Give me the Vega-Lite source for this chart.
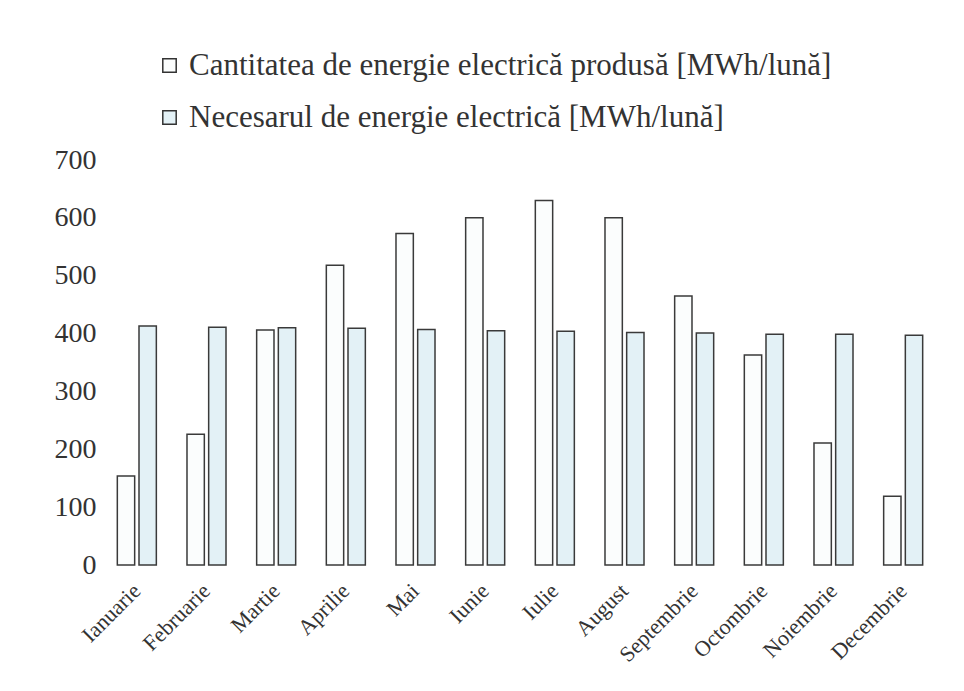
{
  "$schema": "https://vega.github.io/schema/vega-lite/v6.json",
  "width": 836,
  "height": 405,
  "autosize": {"type": "none"},
  "padding": {"left": 102, "top": 160, "right": 26, "bottom": 126},
  "background": "white",
  "config": {
    "view": {"stroke": null},
    "font": "Liberation Serif",
    "axis": {"labelFont": "Liberation Serif"},
    "legend": {"labelFont": "Liberation Serif"}
  },
  "data": {
    "values": [
      {"luna": "Ianuarie", "serie": "Cantitatea de energie electrică produsă [MWh/lună]", "valoare": 154},
      {"luna": "Februarie", "serie": "Cantitatea de energie electrică produsă [MWh/lună]", "valoare": 226},
      {"luna": "Martie", "serie": "Cantitatea de energie electrică produsă [MWh/lună]", "valoare": 406},
      {"luna": "Aprilie", "serie": "Cantitatea de energie electrică produsă [MWh/lună]", "valoare": 518},
      {"luna": "Mai", "serie": "Cantitatea de energie electrică produsă [MWh/lună]", "valoare": 573},
      {"luna": "Iunie", "serie": "Cantitatea de energie electrică produsă [MWh/lună]", "valoare": 600},
      {"luna": "Iulie", "serie": "Cantitatea de energie electrică produsă [MWh/lună]", "valoare": 630},
      {"luna": "August", "serie": "Cantitatea de energie electrică produsă [MWh/lună]", "valoare": 600},
      {"luna": "Septembrie", "serie": "Cantitatea de energie electrică produsă [MWh/lună]", "valoare": 465},
      {"luna": "Octombrie", "serie": "Cantitatea de energie electrică produsă [MWh/lună]", "valoare": 363},
      {"luna": "Noiembrie", "serie": "Cantitatea de energie electrică produsă [MWh/lună]", "valoare": 211},
      {"luna": "Decembrie", "serie": "Cantitatea de energie electrică produsă [MWh/lună]", "valoare": 119},
      {"luna": "Ianuarie", "serie": "Necesarul de energie electrică [MWh/lună]", "valoare": 413},
      {"luna": "Februarie", "serie": "Necesarul de energie electrică [MWh/lună]", "valoare": 411},
      {"luna": "Martie", "serie": "Necesarul de energie electrică [MWh/lună]", "valoare": 410},
      {"luna": "Aprilie", "serie": "Necesarul de energie electrică [MWh/lună]", "valoare": 409},
      {"luna": "Mai", "serie": "Necesarul de energie electrică [MWh/lună]", "valoare": 407},
      {"luna": "Iunie", "serie": "Necesarul de energie electrică [MWh/lună]", "valoare": 405},
      {"luna": "Iulie", "serie": "Necesarul de energie electrică [MWh/lună]", "valoare": 404},
      {"luna": "August", "serie": "Necesarul de energie electrică [MWh/lună]", "valoare": 402},
      {"luna": "Septembrie", "serie": "Necesarul de energie electrică [MWh/lună]", "valoare": 401},
      {"luna": "Octombrie", "serie": "Necesarul de energie electrică [MWh/lună]", "valoare": 399},
      {"luna": "Noiembrie", "serie": "Necesarul de energie electrică [MWh/lună]", "valoare": 399},
      {"luna": "Decembrie", "serie": "Necesarul de energie electrică [MWh/lună]", "valoare": 397}
    ]
  },
  "mark": {"type": "bar", "stroke": "#3a3a3a", "strokeWidth": 1.5},
  "encoding": {
    "x": {
      "field": "luna",
      "type": "nominal",
      "sort": null,
      "scale": {"paddingInner": 0.44, "paddingOuter": 0.22},
      "axis": {
        "title": null,
        "labelAngle": -45,
        "labelAlign": "right",
        "labelBaseline": "middle",
        "labelFont": "Liberation Serif",
        "labelFontSize": 22,
        "labelColor": "#333333",
        "labelPadding": 22,
        "domain": false,
        "ticks": false
      }
    },
    "xOffset": {
      "field": "serie",
      "type": "nominal",
      "scale": {"paddingInner": 0.2}
    },
    "y": {
      "field": "valoare",
      "type": "quantitative",
      "scale": {"domain": [0, 700]},
      "axis": {
        "title": null,
        "values": [0, 100, 200, 300, 400, 500, 600, 700],
        "labelFont": "Liberation Serif",
        "labelFontSize": 28,
        "labelColor": "#333333",
        "labelPadding": 6,
        "domain": false,
        "ticks": false,
        "grid": false
      }
    },
    "fill": {
      "field": "serie",
      "type": "nominal",
      "scale": {"range": ["#fbfdfd", "#e3f1f6"]},
      "legend": {
        "title": null,
        "orient": "none",
        "legendX": 52,
        "legendY": -110,
        "direction": "vertical",
        "symbolType": "square",
        "symbolSize": 180,
        "symbolStrokeColor": "#333333",
        "symbolStrokeWidth": 1.5,
        "labelFont": "Liberation Serif",
        "labelFontSize": 31,
        "labelColor": "#333333",
        "labelLimit": 900,
        "rowPadding": 20,
        "labelOffset": 4
      }
    }
  }
}
